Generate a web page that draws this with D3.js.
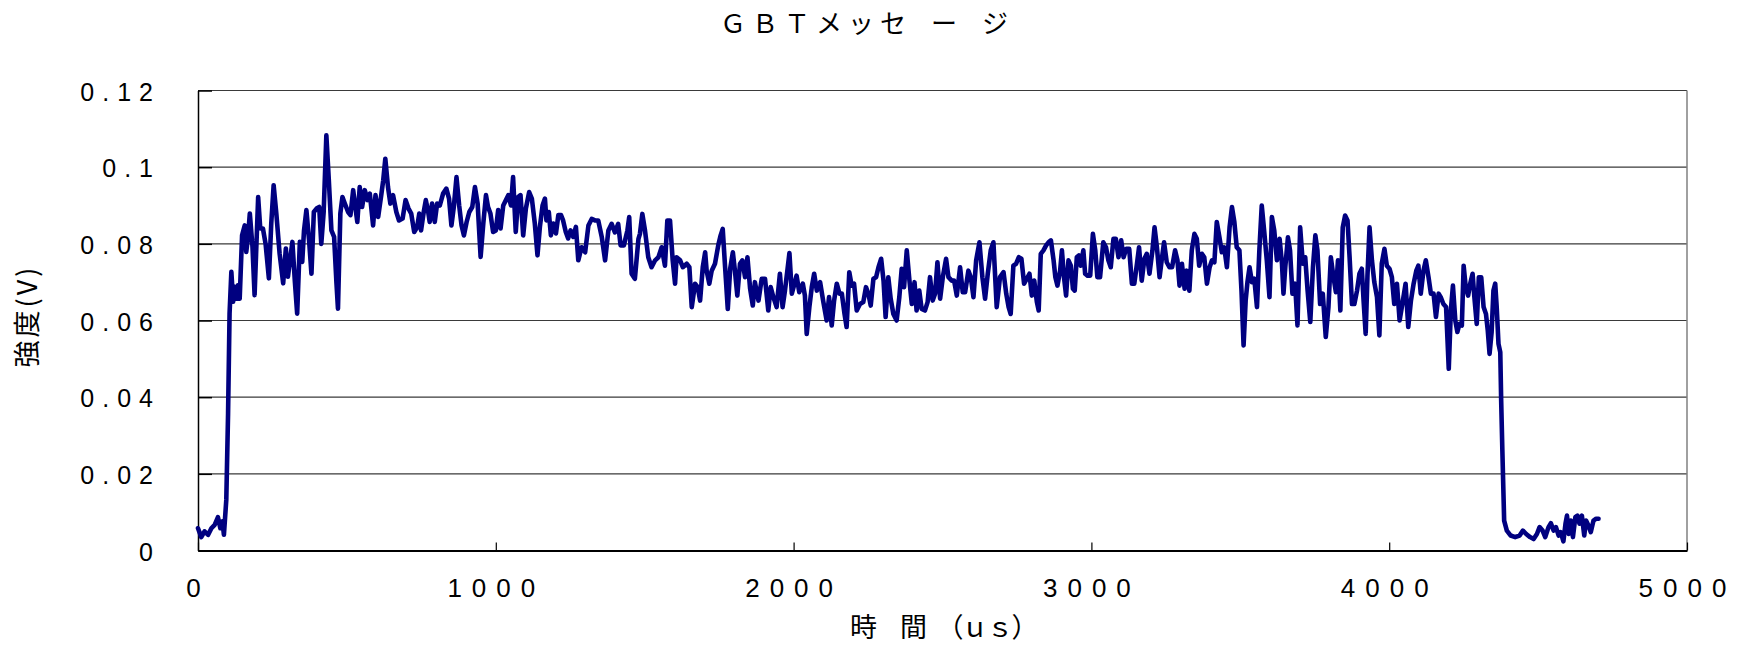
<!DOCTYPE html>
<html>
<head>
<meta charset="utf-8">
<script src="https://cdn.jsdelivr.net/npm/d3@7"></script>
<style>
  html, body { margin: 0; padding: 0; background: #fff; }
  svg { display: block; }
</style>
</head>
<body>
<svg id="chart" width="1745" height="646"></svg>
<script>
// Labels
const chartTitle = "ＧＢＴメッセ\u2002ー\u2002ジ";
const xAxisTitle = "時　間　（ｕｓ）";
const yAxisTitle = "強度(V)";

// Axis ticks
const xTickValues = [0, 1000, 2000, 3000, 4000, 5000];
const yTickValues = [0, 0.02, 0.04, 0.06, 0.08, 0.1, 0.12];

// Measured waveform: time (us) and intensity (V)
const timeUs = [
  0, 11, 22, 34, 45, 56, 67, 75, 82, 87, 95, 101, 106, 112, 118, 123, 129, 134, 140, 148,
  157, 162, 168, 174, 183, 190, 202, 209, 218, 227, 238, 246, 254, 263, 274, 286, 295, 302, 317, 325,
  333, 342, 350, 356, 364, 373, 381, 389, 398, 407, 414, 422, 431, 439, 448, 457, 465, 470, 478, 485,
  493, 504, 512, 521, 529, 535, 543, 551, 560, 569, 577, 588, 596, 605, 616, 622, 629, 638, 646, 655,
  666, 675, 687, 697, 707, 716, 726, 736, 743, 749, 758, 765, 773, 778, 786, 795, 803, 812, 823, 834,
  843, 851, 859, 868, 877, 885, 893, 902, 911, 921, 930, 939, 949, 958, 967, 974, 982, 991, 1000, 1008,
  1016, 1025, 1034, 1042, 1051, 1058, 1067, 1075, 1083, 1092, 1101, 1112, 1121, 1131, 1140, 1148, 1157, 1165, 1170, 1178,
  1185, 1193, 1202, 1210, 1219, 1226, 1235, 1243, 1251, 1260, 1269, 1277, 1288, 1300, 1311, 1322, 1333, 1344, 1356, 1367,
  1378, 1389, 1400, 1411, 1419, 1430, 1442, 1448, 1456, 1467, 1479, 1484, 1492, 1501, 1512, 1523, 1535, 1546, 1557, 1568,
  1576, 1585, 1594, 1602, 1607, 1619, 1628, 1641, 1650, 1658, 1669, 1678, 1686, 1695, 1703, 1708, 1717, 1725, 1736, 1747,
  1755, 1762, 1770, 1779, 1787, 1796, 1803, 1811, 1820, 1828, 1837, 1845, 1854, 1863, 1870, 1882, 1893, 1904, 1915, 1923,
  1932, 1943, 1954, 1963, 1971, 1979, 1986, 1994, 2003, 2010, 2019, 2031, 2038, 2044, 2053, 2061, 2069, 2078, 2089, 2100,
  2111, 2119, 2128, 2136, 2145, 2154, 2162, 2171, 2178, 2187, 2195, 2203, 2212, 2223, 2234, 2243, 2251, 2259, 2268, 2277,
  2285, 2294, 2302, 2309, 2318, 2326, 2335, 2346, 2355, 2363, 2371, 2380, 2389, 2397, 2406, 2413, 2422, 2430, 2441, 2450,
  2458, 2467, 2475, 2483, 2492, 2501, 2512, 2520, 2531, 2539, 2548, 2559, 2568, 2576, 2587, 2595, 2604, 2613, 2624, 2634,
  2643, 2652, 2662, 2671, 2682, 2693, 2705, 2714, 2722, 2729, 2738, 2747, 2756, 2765, 2774, 2783, 2792, 2800, 2808, 2817,
  2823, 2830, 2839, 2848, 2856, 2864, 2873, 2879, 2886, 2895, 2901, 2908, 2915, 2923, 2931, 2938, 2944, 2951, 2958, 2964,
  2973, 2979, 2987, 2996, 3005, 3013, 3020, 3029, 3040, 3049, 3057, 3065, 3074, 3082, 3091, 3100, 3108, 3117, 3127, 3136,
  3144, 3153, 3160, 3169, 3178, 3186, 3195, 3205, 3212, 3220, 3229, 3236, 3244, 3253, 3262, 3271, 3281, 3289, 3296, 3304,
  3313, 3320, 3329, 3337, 3346, 3354, 3362, 3371, 3379, 3388, 3397, 3405, 3413, 3421, 3430, 3438, 3446, 3455, 3464, 3472,
  3480, 3488, 3497, 3504, 3511, 3518, 3524, 3531, 3539, 3547, 3556, 3564, 3572, 3580, 3589, 3598, 3606, 3614, 3623, 3632,
  3640, 3645, 3651, 3660, 3667, 3675, 3684, 3692, 3701, 3710, 3718, 3726, 3735, 3744, 3752, 3759, 3768, 3777, 3787, 3796,
  3804, 3813, 3821, 3828, 3836, 3844, 3852, 3860, 3867, 3875, 3883, 3892, 3900, 3908, 3914, 3921, 3927, 3934, 3942, 3950,
  3959, 3967, 3975, 3984, 3992, 4001, 4009, 4017, 4026, 4035, 4046, 4055, 4064, 4073, 4082, 4091, 4098, 4106, 4115, 4123,
  4132, 4140, 4149, 4157, 4166, 4173, 4182, 4191, 4200, 4207, 4214, 4222, 4229, 4236, 4244, 4250, 4257, 4265, 4272, 4280,
  4286, 4294, 4301, 4309, 4317, 4325, 4331, 4337, 4344, 4350, 4356, 4361, 4367, 4373, 4376, 4380, 4386, 4395, 4408, 4423,
  4438, 4449, 4460, 4473, 4485, 4496, 4505, 4515, 4524, 4535, 4543, 4552, 4560, 4569, 4576, 4585, 4592, 4597, 4603, 4610,
  4617, 4625, 4632, 4639, 4647, 4655, 4661, 4669, 4677, 4686, 4695, 4703
];
const intensityV = [
  .0058, .0035, .0050, .0041, .0058, .0067, .0087, .0058, .0076, .0041, .0132, .0358, .0618, .0727, .0649, .0688, .0657, .0692, .0657, .0822,
  .0848, .0779, .0818, .0879, .0792, .0666, .0922, .0840, .0840, .0800, .0710, .0853, .0953, .0879, .0775, .0697, .0788, .0714, .0805, .0705,
  .0618, .0805, .0753, .0835, .0888, .0809, .0722, .0883, .0892, .0896, .0800, .0883, .1083, .0970, .0835, .0818, .0697, .0631, .0879, .0922,
  .0905, .0883, .0875, .0940, .0892, .0857, .0948, .0896, .0940, .0914, .0931, .0848, .0927, .0870, .0931, .0966, .1022, .0948, .0905, .0927,
  .0883, .0861, .0866, .0914, .0892, .0879, .0831, .0844, .0879, .0835, .0883, .0914, .0883, .0857, .0905, .0857, .0905, .0900, .0931, .0944,
  .0918, .0848, .0896, .0974, .0900, .0848, .0822, .0857, .0883, .0896, .0948, .0905, .0766, .0853, .0927, .0896, .0879, .0831, .0835, .0888,
  .0840, .0900, .0914, .0927, .0900, .0974, .0831, .0922, .0927, .0822, .0892, .0935, .0918, .0853, .0770, .0844, .0900, .0918, .0861, .0883,
  .0822, .0853, .0827, .0875, .0875, .0861, .0831, .0814, .0835, .0818, .0844, .0757, .0791, .0778, .0848, .0865, .0861, .0861, .0817, .0757,
  .0835, .0852, .0830, .0852, .0796, .0796, .0835, .0870, .0722, .0709, .0813, .0826, .0878, .0835, .0765, .0739, .0757, .0765, .0791, .0743,
  .0861, .0861, .0757, .0696, .0765, .0757, .0739, .0748, .0739, .0635, .0696, .0687, .0652, .0739, .0778, .0730, .0696, .0730, .0748, .0796,
  .0822, .0839, .0739, .0630, .0735, .0778, .0730, .0665, .0748, .0757, .0713, .0765, .0683, .0639, .0700, .0652, .0709, .0709, .0626, .0687,
  .0661, .0635, .0722, .0635, .0678, .0730, .0776, .0670, .0696, .0717, .0674, .0696, .0665, .0565, .0635, .0687, .0722, .0678, .0700, .0648,
  .0600, .0661, .0587, .0652, .0696, .0670, .0670, .0617, .0583, .0726, .0691, .0696, .0626, .0643, .0648, .0687, .0670, .0639, .0709, .0713,
  .0739, .0761, .0704, .0609, .0713, .0657, .0617, .0600, .0661, .0735, .0687, .0783, .0704, .0643, .0700, .0626, .0678, .0630, .0626, .0648,
  .0713, .0652, .0670, .0752, .0657, .0713, .0761, .0713, .0704, .0704, .0665, .0739, .0674, .0674, .0730, .0713, .0661, .0757, .0804, .0713,
  .0657, .0722, .0783, .0804, .0635, .0713, .0726, .0670, .0635, .0617, .0743, .0748, .0765, .0761, .0696, .0709, .0722, .0665, .0704, .0648,
  .0626, .0774, .0783, .0796, .0804, .0809, .0757, .0713, .0691, .0730, .0783, .0713, .0665, .0757, .0743, .0683, .0678, .0765, .0770, .0743,
  .0783, .0722, .0717, .0717, .0826, .0783, .0713, .0713, .0804, .0791, .0757, .0739, .0813, .0813, .0765, .0809, .0765, .0787, .0787, .0696,
  .0696, .0748, .0791, .0704, .0761, .0774, .0722, .0783, .0843, .0791, .0713, .0757, .0804, .0752, .0739, .0739, .0783, .0757, .0691, .0748,
  .0683, .0730, .0678, .0783, .0826, .0813, .0743, .0774, .0765, .0696, .0739, .0757, .0752, .0857, .0817, .0778, .0791, .0739, .0843, .0896,
  .0857, .0791, .0783, .0678, .0535, .0652, .0700, .0739, .0700, .0709, .0635, .0783, .0900, .0835, .0757, .0661, .0870, .0835, .0757, .0813,
  .0748, .0670, .0739, .0817, .0783, .0670, .0696, .0587, .0843, .0748, .0765, .0678, .0596, .0739, .0822, .0783, .0643, .0670, .0557, .0635,
  .0765, .0713, .0674, .0757, .0626, .0843, .0874, .0861, .0765, .0643, .0643, .0678, .0722, .0735, .0652, .0565, .0717, .0843, .0757, .0700,
  .0661, .0561, .0748, .0787, .0743, .0735, .0713, .0643, .0696, .0600, .0652, .0696, .0583, .0652, .0696, .0730, .0743, .0670, .0730, .0757,
  .0713, .0670, .0670, .0609, .0670, .0661, .0643, .0635, .0474, .0626, .0691, .0600, .0570, .0591, .0587, .0743, .0687, .0665, .0696, .0722,
  .0661, .0591, .0713, .0713, .0635, .0617, .0574, .0513, .0570, .0678, .0696, .0635, .0539, .0517, .0391, .0261, .0078, .0052, .0039, .0035,
  .0039, .0052, .0043, .0035, .0030, .0043, .0061, .0052, .0035, .0061, .0071, .0052, .0061, .0039, .0048, .0024, .0070, .0091, .0043, .0078,
  .0035, .0087, .0091, .0070, .0091, .0039, .0078, .0065, .0048, .0078, .0083, .0083
];

const W = 1745, H = 646;
const plot = { left: 198, right: 1687, top: 90.5, bottom: 550.5 };

const svg = d3.select("#chart");
svg.append("rect").attr("width", W).attr("height", H).attr("fill", "#fff");

const x = d3.scaleLinear().domain([0, 5000]).range([plot.left, plot.right]);
const y = d3.scaleLinear().domain([0, 0.12]).range([plot.bottom, plot.top]);

const digitFont = "'Liberation Sans', Arial, 'Noto Sans CJK JP', sans-serif";
const jpFont = "'Noto Sans CJK JP', 'Noto Sans CJK SC', sans-serif";

// Horizontal gridlines (the top one doubles as the plot frame)
svg.append("g")
  .selectAll("line")
  .data(yTickValues.filter(d => d > 0))
  .join("line")
  .attr("x1", plot.left).attr("x2", plot.right)
  .attr("y1", d => y(d)).attr("y2", d => y(d))
  .attr("stroke", "#3a3a3a")
  .attr("stroke-width", 1.2);

// Right side of the plot frame
svg.append("line")
  .attr("x1", plot.right).attr("x2", plot.right)
  .attr("y1", plot.top).attr("y2", plot.bottom)
  .attr("stroke", "#808080")
  .attr("stroke-width", 1.5);

// X axis with inward ticks
const xAxis = d3.axisBottom(x)
  .tickValues(xTickValues)
  .tickSize(-8)
  .tickSizeOuter(0)
  .tickPadding(28)
  .tickFormat(d3.format("d"));
const gx = svg.append("g")
  .attr("transform", `translate(0,${plot.bottom})`)
  .call(xAxis);
gx.select(".domain").attr("stroke", "#000").attr("stroke-width", 2);
gx.selectAll(".tick line").attr("stroke", "#000").attr("stroke-width", 1.2);
gx.selectAll(".tick text")
  .attr("fill", "#000")
  .style("font-family", digitFont)
  .style("font-size", "26px")
  .style("letter-spacing", "10px");

// Y axis with inward ticks
const yAxis = d3.axisLeft(y)
  .tickValues(yTickValues)
  .tickSize(-14)
  .tickSizeOuter(0)
  .tickPadding(37)
  .tickFormat(d => String(+d.toFixed(2)));
const gy = svg.append("g")
  .attr("transform", `translate(${plot.left},0)`)
  .call(yAxis);
gy.select(".domain").attr("stroke", "#000").attr("stroke-width", 1.5);
gy.selectAll(".tick line").attr("stroke", "#000").attr("stroke-width", 1.5);
gy.selectAll(".tick text")
  .attr("fill", "#000")
  .attr("dy", "0.38em")
  .style("font-family", digitFont)
  .style("font-size", "25px")
  .style("letter-spacing", "8px");

// Waveform
const series = timeUs.map((t, i) => ({ t, v: intensityV[i] }));
svg.append("path")
  .datum(series)
  .attr("fill", "none")
  .attr("stroke", "#000080")
  .attr("stroke-width", 4.6)
  .attr("stroke-linejoin", "round")
  .attr("stroke-linecap", "round")
  .attr("d", d3.line().x(d => x(d.t)).y(d => y(d.v)));

// Title
svg.append("text")
  .attr("x", 720).attr("y", 33)
  .attr("fill", "#000")
  .style("font-family", jpFont)
  .style("font-size", "26px")
  .style("letter-spacing", "6px")
  .text(chartTitle);

// X axis title
svg.append("text")
  .attr("x", 850).attr("y", 637)
  .attr("fill", "#000")
  .style("font-family", jpFont)
  .style("font-size", "27px")
  .style("letter-spacing", "-2px")
  .text(xAxisTitle);

// Y axis title
svg.append("text")
  .attr("transform", "translate(37,316) rotate(-90)")
  .attr("text-anchor", "middle")
  .attr("fill", "#000")
  .style("font-family", jpFont)
  .style("font-size", "27px")
  .style("letter-spacing", "3px")
  .text(yAxisTitle);
</script>
</body>
</html>
